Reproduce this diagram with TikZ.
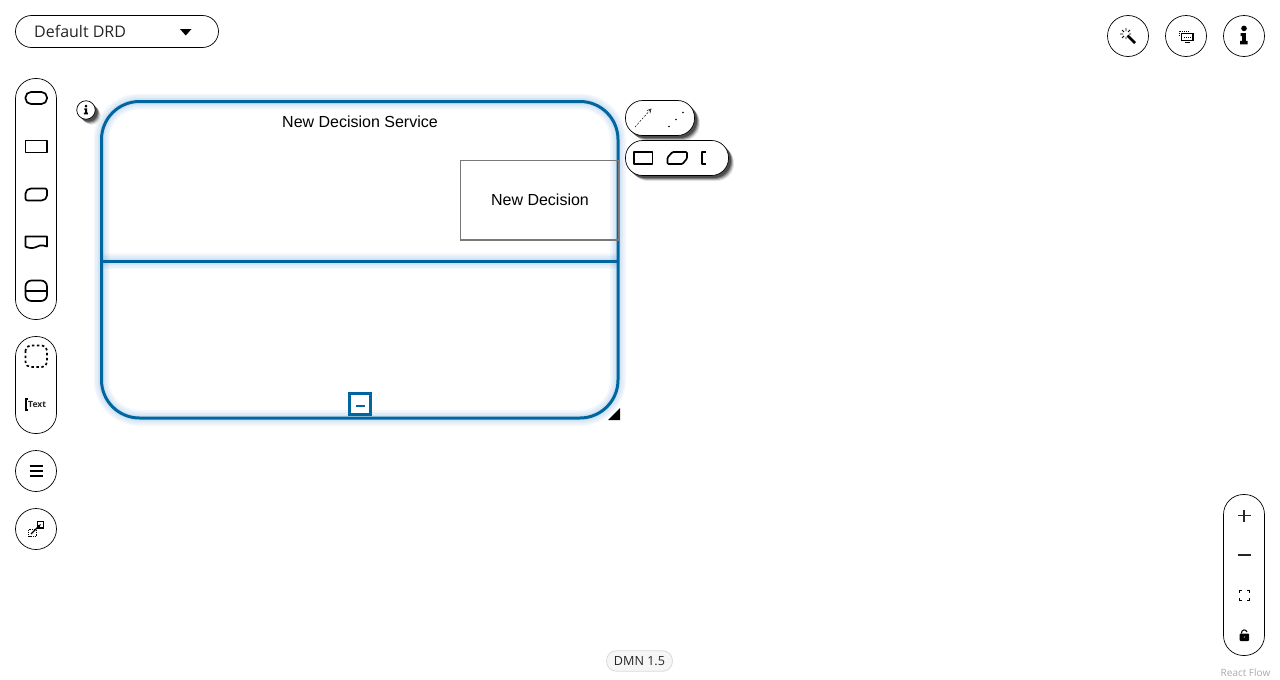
\documentclass[tikz,border=0pt]{standalone}
\usepackage{fontspec}
\setmainfont{Liberation Sans}
\newfontfamily\uifont{Open Sans}
\usetikzlibrary{
  shapes.misc,
  shadows,
  positioning,
  calc,
  arrows.meta}
\definecolor{servicecolor}{RGB}{0,102,160}
\definecolor{glowcolor}{RGB}{70,140,205}
\definecolor{decisionline}{RGB}{120,120,120}
\definecolor{flowcolor}{RGB}{170,170,170}
\definecolor{badgefill}{RGB}{246,246,246}
\definecolor{badgeline}{RGB}{218,218,218}
\tikzset{
  %% pill : a rounded toolbar
  pill/.style={
    rectangle,
    draw=black,
    fill=white,
    line width=0.7pt,
    rounded corners=20pt,
    inner sep=0pt
  },
  %% roundbtn : a single round button
  roundbtn/.style={
    circle,
    draw=black,
    fill=white,
    line width=0.7pt,
    minimum size=41pt,
    inner sep=0pt
  },
  %% shadowed : the dark shadow of the popups
  shadowed/.style={
    drop shadow={shadow xshift=5.5pt, shadow yshift=-5.5pt, fill=black, opacity=0.1},
    drop shadow={shadow xshift=4.5pt, shadow yshift=-4.5pt, fill=black, opacity=0.2},
    drop shadow={shadow xshift=3.5pt, shadow yshift=-3.5pt, fill=black, opacity=0.3},
    drop shadow={shadow xshift=2.5pt, shadow yshift=-2.5pt, fill=black, opacity=0.4}
  },
  %% shapeicon : outline of a palette icon
  shapeicon/.style={draw=black, line width=1.7pt, line join=round},
  %% frame : the outline of the service
  frame/.style={servicecolor, line width=3pt},
  glow/.style={glowcolor, opacity=0.06, line width=#1}
}
\tikzset{
  info_glyph/.pic = {
    \fill (0, -4.6) circle (1.7);
    \fill (-2, -1.8) -- (1.2, -1.8) -- (1.2, 3) -- (2.2, 3) -- (2.2, 5)
      -- (-2.4, 5) -- (-2.4, 3) -- (-1.1, 3) -- (-1.1, 0) -- (-2, 0) -- cycle;
  }
}
\begin{document}
\begin{tikzpicture}
  [x=1pt,
  y=-1pt,
  align=center]
  \useasboundingbox (0, 0) rectangle (1280, 680);

  %% Top bar
  \node (drdselect) [pill, rounded corners=16pt, minimum width=203pt, minimum height=32pt] at (117, 31.5) {};
  \node (drdlabel) [anchor=west, inner sep=0pt, font=\uifont\fontsize{16}{18}\selectfont, text=black!85] at (34, 31.5) {Default DRD};
  \fill (180, 29) -- (191.5, 29) -- (185.75, 35.5) -- cycle;

  \node (wandbtn) [roundbtn] at (1128, 36) {};
  \node (overlaybtn) [roundbtn] at (1186, 36) {};
  \node (infobtn) [roundbtn] at (1244, 36) {};

  % wand
  \draw [line width=2.6pt] (1127.5, 35.5) -- (1135, 43);
  \draw [line width=0.8pt] (1126, 28) -- (1126, 31) (1126, 37) -- (1126, 39)
    (1120, 34) -- (1123, 34) (1129, 34) -- (1131, 34)
    (1122, 30) -- (1124, 32) (1130, 30) -- (1128, 32) (1122, 38) -- (1124, 36);
  % overlays
  \draw [line width=0.7pt, dash pattern=on 1pt off 1pt] (1179, 36) -- (1179, 31) -- (1189, 31);
  \draw [line width=1.6pt] (1181.5, 33.5) rectangle (1193, 40.5);
  \fill (1185, 42) rectangle (1190, 43.2);
  \draw [line width=0.7pt, dash pattern=on 1pt off 1pt] (1184, 37) -- (1191, 37);
  % info
  \pic [scale=1.65] at (1244, 36) {info_glyph};

  %% Palette
  \node (nodepalette) [pill, minimum width=41pt, minimum height=241pt] at (36, 199) {};
  \draw [shapeicon, rounded corners=5.5pt] (25.5, 92) rectangle (47, 104);
  \draw [shapeicon] (25.5, 140.5) rectangle (47, 152.5);
  \draw [shapeicon, rounded corners=2pt] (25.5, 200.5) -- (25.5, 191.5) -- (29, 188.5) -- (47, 188.5)
    -- (47, 197.5) -- (43.5, 200.5) -- cycle;
  \draw [shapeicon] (25.5, 236.5) -- (47, 236.5) -- (47, 246.5) .. controls (41, 244) and (38, 246) .. (35, 247.5)
    .. controls (32, 248.5) and (28, 248) .. (25.5, 246.5) -- cycle;
  \draw [shapeicon, rounded corners=6pt] (25.5, 280.5) rectangle (47, 301);
  \draw [line width=1.2pt] (25.5, 291) -- (47, 291);

  \node (extrapalette) [pill, minimum width=41pt, minimum height=97pt] at (36, 385) {};
  \draw [shapeicon, rounded corners=5pt, dash pattern=on 2.5pt off 2.5pt] (25.5, 345.5) rectangle (47, 367);
  \draw [line width=1.4pt] (28, 399) -- (25.8, 399) -- (25.8, 410) -- (28, 410);
  \node (textlabel) [anchor=west, inner sep=0pt, font=\uifont\bfseries\fontsize{8.5}{9}\selectfont, text=black!85] at (28, 405) {Text};

  \node (menubtn) [roundbtn] at (36, 471) {};
  \draw [line width=2pt] (29.5, 465.5) -- (42.5, 465.5) (29.5, 470.5) -- (42.5, 470.5) (29.5, 475.5) -- (42.5, 475.5);

  \node (expandbtn) [roundbtn] at (36, 529) {};
  \draw [line width=0.7pt, dash pattern=on 1.2pt off 1pt] (28.5, 529.5) rectangle (36, 536.5);
  \draw [line width=1.4pt] (37.5, 521.5) rectangle (43.5, 528);
  \draw [line width=1.3pt, -{Latex[length=4pt, width=4pt]}] (31, 534) -- (41, 524);

  %% Decision service
  \foreach \w in {16, 13, 10, 7, 5} {
    \draw [glow=\w pt, rounded corners=38pt] (101.5, 101.5) rectangle (618, 418);
    \draw [glow=\w pt] (102, 261) -- (618, 261);
  }
  \draw [frame, rounded corners=38pt] (101.5, 101.5) rectangle (618, 418);
  \draw [frame] (102, 261) -- (618, 261);
  \node (decision) [rectangle, draw=decisionline, line width=0.8pt, minimum width=158pt, minimum height=79pt,
    font=\fontsize{16}{18}\selectfont] at (539.5, 200) {\hspace{1pt}New Decision};
  \draw [decisionline, line width=1.3pt] (decision.south west) -- (decision.south east);
  \node (servicelabel) [inner sep=0pt, font=\fontsize{16}{18}\selectfont] at (360, 122) {New Decision Service};

  \node (collapsebtn) [rectangle, draw=servicecolor, line width=3pt, fill=white, minimum size=21pt, inner sep=0pt] at (360, 403.5) {};
  \draw [servicecolor, line width=2pt] (356, 405.5) -- (365, 405.5);
  \fill (620, 408) -- (620, 420) -- (608, 420) -- cycle;

  %% Popups
  \node (infobadge) [circle, draw=black, fill=white, line width=0.7pt, minimum size=18.5pt, inner sep=0pt, shadowed] at (86, 110) {};
  \pic [scale=0.85] at (86, 110) {info_glyph};

  \node (edgepopup) [pill, rounded corners=17pt, minimum width=69pt, minimum height=35pt, shadowed] at (660, 118) {};
  \draw [line width=0.5pt, dash pattern=on 2pt off 1.5pt, -{Straight Barb[length=4pt, width=4pt]}] (635, 127) -- (651.5, 108.5);
  \fill (669, 126.5) circle (0.9) (676, 119.5) circle (0.9) (683, 112.5) circle (0.9);

  \node (nodepopup) [pill, rounded corners=17pt, minimum width=103pt, minimum height=35pt, shadowed] at (677, 158) {};
  \draw [shapeicon] (634, 152) rectangle (652.5, 164);
  \draw [shapeicon, rounded corners=1pt] (667.5, 164) -- (667.5, 157.5) -- (672.5, 152) -- (687, 152)
    -- (687, 158.5) -- (682.5, 164) -- cycle;
  \draw [shapeicon] (706, 152) -- (702, 152) -- (702, 164) -- (706, 164);

  %% Zoom controls
  \node (zoompanel) [pill, minimum width=41pt, minimum height=161pt] at (1244, 575) {};
  \draw [line width=1.8pt, black!85] (1238, 515.5) -- (1250.5, 515.5) (1244.2, 509.5) -- (1244.2, 522);
  \draw [line width=1.8pt, black!85] (1238, 555.2) -- (1250.5, 555.2);
  \draw [line width=1pt] (1239.5, 592.5) -- (1239.5, 590) -- (1242, 590)
    (1246.5, 590) -- (1249, 590) -- (1249, 592.5)
    (1249, 597.5) -- (1249, 600) -- (1246.5, 600)
    (1242, 600) -- (1239.5, 600) -- (1239.5, 597.5);
  \fill [even odd rule, rounded corners=1pt] (1239.5, 633.5) rectangle (1249, 641) (1243.4, 636.2) rectangle (1245.2, 638);
  \draw [line width=1.1pt] (1241.3, 633.5) .. controls (1241.5, 629) and (1246, 629) .. (1247, 632);

  %% Footer
  \node (versionbadge) [rectangle, draw=badgeline, fill=badgefill, line width=0.8pt, rounded corners=10pt,
    minimum width=66pt, minimum height=20.5pt, inner sep=0pt] at (639.5, 661) {};
  \node (versionlabel) [inner sep=0pt, font=\uifont\fontsize{12.6}{15}\selectfont, text=black!85] at (639.5, 661.5) {DMN 1.5};
  \node (flowlabel) [inner sep=0pt, font=\uifont\fontsize{10}{12}\selectfont, text=flowcolor] at (1245.5, 673) {React Flow};
\end{tikzpicture}
\end{document}
